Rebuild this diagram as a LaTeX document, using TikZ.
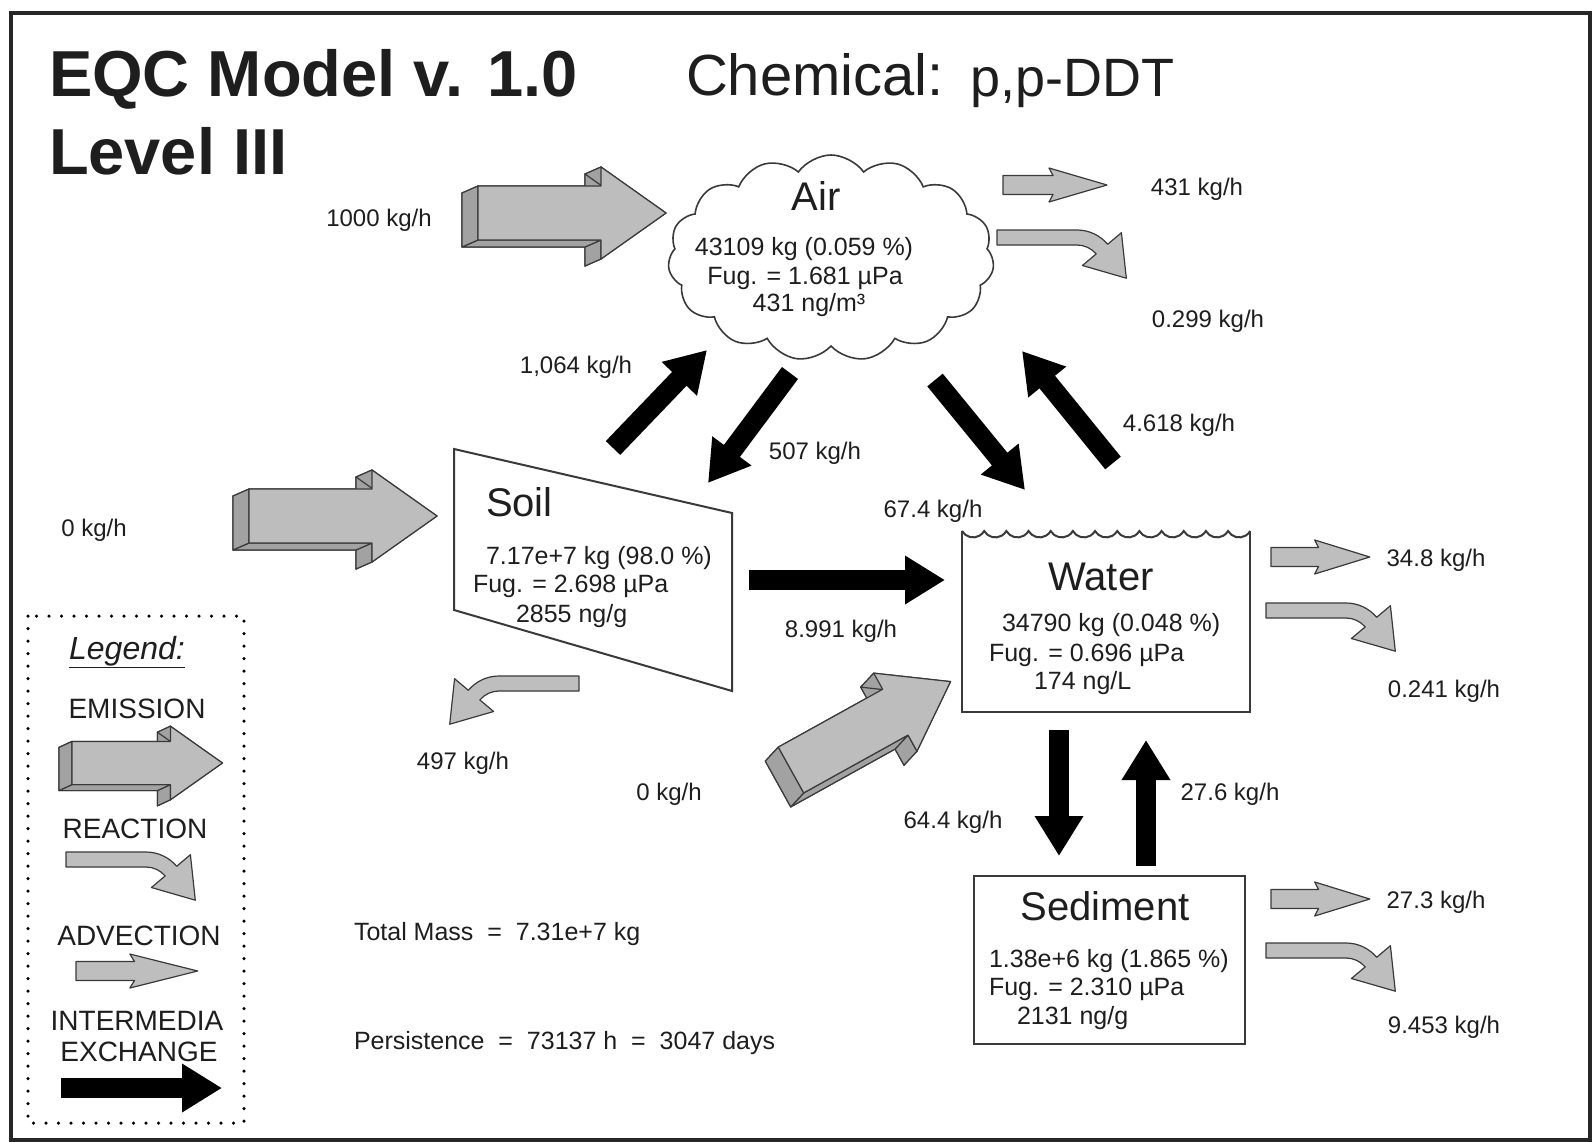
\documentclass[tikz,border=0pt]{standalone}
\usepackage{fontspec}
\setmainfont{Liberation Sans}
\usetikzlibrary{arrows.meta,calc,shapes.symbols}

\definecolor{txt}{HTML}{1E1E1E}
\definecolor{emfront}{HTML}{BDBDBD}
\definecolor{emside}{HTML}{A2A2A2}
\definecolor{edge}{HTML}{3A3A3A}
\definecolor{flowfill}{HTML}{BEBEBE}

\newcommand{\fs}[1]{\fontsize{#1}{#1}\selectfont}

% 3D emission arrow: #1 front-left centre, #2 angle, #3 scale, #4/#5 extrusion offset
\newcommand{\emarrow}[5]{%
  \begin{scope}[shift={#1},rotate=#2,scale=#3]
    \coordinate (e1) at (0,27);
    \coordinate (e2) at (123,27);
    \coordinate (e3) at (123,46);
    \coordinate (e4) at (188,0);
    \coordinate (e5) at (123,-46);
    \coordinate (e6) at (123,-27);
    \coordinate (e7) at (0,-27);
  \end{scope}
  \filldraw[emside3d] ($(e1)+(#4,#5)$) -- ($(e2)+(#4,#5)$) -- ($(e3)+(#4,#5)$) -- ($(e4)+(#4,#5)$) -- ($(e5)+(#4,#5)$) -- ($(e6)+(#4,#5)$) -- ($(e7)+(#4,#5)$) -- cycle;
  \foreach \i/\j in {1/2,2/3,3/4,4/5,5/6,6/7,7/1}{%
    \filldraw[emside3d] (e\i) -- (e\j) -- ($(e\j)+(#4,#5)$) -- ($(e\i)+(#4,#5)$) -- cycle;}
  \filldraw[emfront3d] (e1) -- (e2) -- (e3) -- (e4) -- (e5) -- (e6) -- (e7) -- cycle;
}
% advection arrow
\newcommand{\advarrow}[2]{%
  \filldraw[flowshape, shift={#1}, xscale=#2] (0,9.5) -- (50,9.5) -- (46,17) -- (104,0) -- (46,-17) -- (50,-9.5) -- (0,-9.5) -- cycle;
}
% reaction arrow: #1 top-left of shaft, #2 xscale
\newcommand{\reacarrow}[2]{%
  \filldraw[flowshape, shift={#1}, xscale=#2] (0,0) -- (80,0) arc[start angle=90,end angle=40,radius=40] -- (124.4,-2.7) -- (129.3,-48.2) -- (85.4,-35.5) -- (99.15,-23.94) arc[start angle=40,end angle=90,radius=25] -- (0,-15) -- cycle;
}

\begin{document}
\begin{tikzpicture}[x=1pt,y=1pt,
  every node/.style={text=txt, inner sep=0pt, outer sep=0pt},
  lbl/.style={font=\fs{24}, anchor=mid},
  body/.style={font=\fs{25}, anchor=base west},
  bodyc/.style={font=\fs{25}, anchor=base},
  comp/.style={font=\fs{40}, anchor=base},
  leg/.style={font=\fs{28}, anchor=mid},
  emside3d/.style={fill=emside, draw=edge, line width=1.2pt, line join=round},
  emfront3d/.style={fill=emfront, draw=edge, line width=1.2pt, line join=round},
  flowshape/.style={fill=flowfill, draw=edge, line width=1.2pt, line join=round},
  xch/.style={draw=black, line width=20pt, -{Triangle[length=40pt,width=46pt]}},
  boxline/.style={draw=edge, line width=2pt}]

\useasboundingbox (0,0) rectangle (1594,-1142);
\fill[white] (0,0) rectangle (1594,-1142);
\draw[line width=4pt, black!85] (11,-13) rectangle (1590,-1140);

% titles
\node[anchor=base west, font=\fs{65}\bfseries] (title) at (49,-97) {EQC Model v. 1.0};
\node[anchor=base west, font=\fs{65}\bfseries] (level) at (49,-175) {Level III};
\node[anchor=base west, font=\fs{58}] (chem) at (686,-96) {Chemical:};
\node[anchor=base west, font=\fs{54}] (chemname) at (970,-97) {p,p-DDT};

% Air compartment
\node[cloud, cloud puffs=15, cloud puff arc=110, aspect=1.55, draw=edge, line width=1.6pt,
      minimum width=326pt, minimum height=206pt] (air) at (831,-258) {};
\node[comp] (airT) at (816,-210) {Air};
\node[bodyc] (airL1) at (804,-255) {43109 kg (0.059 \%)};
\node[bodyc] (airL2) at (805,-284) {Fug. = 1.681 µPa};
\node[bodyc] (airL3) at (809,-311) {431 ng/m³};

% Soil compartment
\coordinate (soilTL) at (454,-449);
\coordinate (soilTR) at (732,-513);
\coordinate (soilBR) at (732,-691);
\coordinate (soilBL) at (454,-610);
\draw[boxline] (soilTL) -- (soilTR) -- (soilBR) -- (soilBL) -- cycle;
\node[anchor=base west, font=\fs{40}] (soilT) at (486,-516) {Soil};
\node[body] (soilL1) at (486,-564) {7.17e+7 kg (98.0 \%)};
\node[body] (soilL2) at (473,-592) {Fug. = 2.698 µPa};
\node[body] (soilL3) at (516,-622) {2855 ng/g};

% Water compartment
\draw[boxline] (962,-531) \foreach \k in {1,...,13}{ arc[start angle=210,end angle=330,radius=12.8] };
\draw[boxline] (962,-531) -- (962,-712) -- (1250,-712) -- (1250,-531);
\node[comp] (waterT) at (1101,-590) {Water};
\node[body] (waterL1) at (1002,-631) {34790 kg (0.048 \%)};
\node[body] (waterL2) at (989,-661) {Fug. = 0.696 µPa};
\node[body] (waterL3) at (1034,-689) {174 ng/L};

% Sediment compartment
\draw[boxline] (974,-876) rectangle (1245,-1044);
\node[comp] (sedT) at (1105,-920) {Sediment};
\node[body] (sedL1) at (989,-967) {1.38e+6 kg (1.865 \%)};
\node[body] (sedL2) at (989,-995) {Fug. = 2.310 µPa};
\node[body] (sedL3) at (1017,-1024) {2131 ng/g};

% emissions
\emarrow{(478,-213)}{0}{1}{-16}{-7}
\emarrow{(249,-516)}{0}{1}{-16}{-7}
\emarrow{(791,-770)}{29}{0.97}{-13}{-14}
\node[lbl] (eAir) at (379,-224) {1000 kg/h};
\node[lbl] (eSoil) at (94,-534) {0 kg/h};
\node[lbl] (eWater) at (669,-798) {0 kg/h};

% advection and reaction
\advarrow{(1003,-185)}{1}
\advarrow{(1271,-557)}{0.95}
\advarrow{(1271,-899)}{0.95}
\reacarrow{(997,-230)}{1}
\reacarrow{(1266,-603)}{1}
\reacarrow{(1266,-943)}{1}
\reacarrow{(579,-676)}{-1}
\node[lbl] (aAir) at (1197,-193) {431 kg/h};
\node[lbl] (rAir) at (1208,-325) {0.299 kg/h};
\node[lbl] (aWater) at (1436,-564) {34.8 kg/h};
\node[lbl] (rWater) at (1444,-695) {0.241 kg/h};
\node[lbl] (aSed) at (1436,-906) {27.3 kg/h};
\node[lbl] (rSed) at (1444,-1031) {9.453 kg/h};
\node[lbl] (rSoil) at (463,-767) {497 kg/h};

% intermedia exchange
\coordinate (x1s) at (613,-448); \coordinate (x1t) at (707,-350);
\coordinate (x2s) at (790,-373); \coordinate (x2t) at (708,-483);
\coordinate (x3s) at (935,-380); \coordinate (x3t) at (1025,-490);
\coordinate (x4s) at (1113,-463); \coordinate (x4t) at (1022,-351);
\coordinate (x5s) at (749,-580); \coordinate (x5t) at (945,-580);
\coordinate (x6s) at (1059,-730); \coordinate (x6t) at (1059,-856);
\coordinate (x7s) at (1146,-866); \coordinate (x7t) at (1146,-740);
\draw[xch] (x1s) -- (x1t);
\draw[xch] (x2s) -- (x2t);
\draw[xch] (x3s) -- (x3t);
\draw[xch] (x4s) -- (x4t);
\draw[xch] (x5s) -- (x5t);
\draw[xch] (x6s) -- (x6t);
\draw[xch] (x7s) -- (x7t);
\node[lbl] (k1) at (576,-371) {1,064 kg/h};
\node[lbl] (k2) at (815,-457) {507 kg/h};
\node[lbl] (k3) at (933,-515) {67.4 kg/h};
\node[lbl] (k4) at (1179,-429) {4.618 kg/h};
\node[lbl] (k5) at (841,-635) {8.991 kg/h};
\node[lbl] (k6) at (953,-826) {64.4 kg/h};
\node[lbl] (k7) at (1230,-798) {27.6 kg/h};

% totals
\node[anchor=mid west, font=\fs{25}] (tot) at (354,-938) {Total Mass\ \ =\ \ 7.31e+7 kg};
\node[anchor=mid west, font=\fs{25}] (pers) at (354,-1047) {Persistence\ \ =\ \ 73137 h\ \ =\ \ 3047 days};

% legend
\draw[line width=3.5pt, dash pattern=on 0pt off 12.5pt, line cap=round] (28,-616) rectangle (244,-1123);
\node[anchor=mid, font=\fs{32}\itshape] (legT) at (127,-657) {\underline{Legend:}};
\node[leg] (legE) at (137,-716) {EMISSION};
\emarrow{(72,-763)}{0}{0.8}{-13}{-6}
\node[leg] (legR) at (135,-836) {REACTION};
\reacarrow{(66,-852)}{1}
\node[leg] (legA) at (139,-943) {ADVECTION};
\advarrow{(76,-971)}{1.17}
\node[leg] (legI1) at (137,-1028) {INTERMEDIA};
\node[leg] (legI2) at (139,-1059) {EXCHANGE};
\coordinate (x8s) at (61,-1088); \coordinate (x8t) at (222,-1088);
\draw[xch] (x8s) -- (x8t);
\end{tikzpicture}
\end{document}
